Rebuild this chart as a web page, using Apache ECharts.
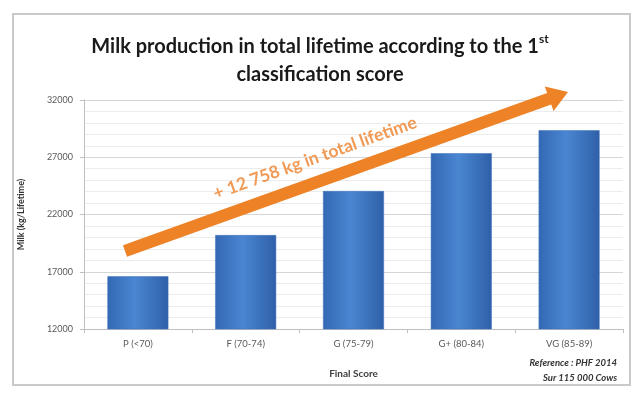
<!DOCTYPE html>
<html>
<head>
<meta charset="utf-8">
<script src="https://cdn.jsdelivr.net/npm/echarts@6/dist/echarts.min.js"></script>
<style>
html,body{margin:0;padding:0;background:#fff;}
#chart{width:640px;height:393px;}
</style>
</head>
<body>
<div id="chart"></div>
<script>
var categories = ['P (<70)', 'F (70-74)', 'G (75-79)', 'G+ (80-84)', 'VG (85-89)'];
var milkLifetime = [16600, 20200, 24050, 27350, 29360];
var yTicks = [12000, 17000, 22000, 27000, 32000];
var titleLine1 = 'Milk production in total lifetime according to the 1';
var titleSup = 'st';
var titleLine2 = 'classification score';
var arrowLabel = '+ 12 758 kg in total lifetime';
var noteLines = ['Reference : PHF 2014', 'Sur 115 000 Cows'];

var FONT = 'Lato, "Open Sans", sans-serif';
var chart = echarts.init(document.getElementById('chart'), null, {renderer: 'canvas'});

// arrow geometry (annotation)
var T = [125, 251], P = [568, 92];
var dx = P[0] - T[0], dy = P[1] - T[1], L = Math.sqrt(dx * dx + dy * dy);
var u = [dx / L, dy / L], n = [-u[1], u[0]];
var hl = 20, sw = 6, hw = 13;
var B = [P[0] - hl * u[0], P[1] - hl * u[1]];
function pt(o, v, k) { return [o[0] + v[0] * k, o[1] + v[1] * k]; }
var arrowPts = [pt(T, n, -sw), pt(B, n, -sw), pt(B, n, -hw), P, pt(B, n, hw), pt(B, n, sw), pt(T, n, sw)];
var angle = Math.atan2(-dy, dx);

chart.setOption({
  backgroundColor: '#ffffff',
  animation: false,
  title: {
    text: '{t|' + titleLine1 + '}{s|' + titleSup + '}\n{t|' + titleLine2 + '}',
    left: 'center',
    top: 28,
    textStyle: {
      rich: {
        t: {fontFamily: FONT, fontWeight: 'bold', fontSize: 20, color: '#1a1a1a', lineHeight: 28},
        s: {fontFamily: FONT, fontWeight: 'bold', fontSize: 12, color: '#1a1a1a', verticalAlign: 'top', lineHeight: 28, padding: [0, 0, 8, 0]}
      }
    }
  },
  grid: {left: 84, right: 17, top: 100, bottom: 64, containLabel: false},
  xAxis: {
    type: 'category',
    data: categories,
    name: 'Final Score',
    nameLocation: 'middle',
    nameGap: 40,
    nameTextStyle: {fontFamily: FONT, fontWeight: 'bold', fontSize: 10, color: '#404040'},
    axisLine: {lineStyle: {color: '#bfbfbf', width: 1}},
    axisTick: {show: true, length: 4, lineStyle: {color: '#bfbfbf'}},
    axisLabel: {fontFamily: FONT, fontSize: 9.5, color: '#595959', margin: 10}
  },
  yAxis: {
    type: 'value',
    min: yTicks[0],
    max: yTicks[yTicks.length - 1],
    interval: yTicks[1] - yTicks[0],
    name: 'Milk (kg/Lifetime)',
    nameLocation: 'middle',
    nameGap: 58,
    nameTextStyle: {fontFamily: FONT, fontWeight: 'bold', fontSize: 9, color: '#333'},
    axisLine: {show: true, lineStyle: {color: '#bfbfbf', width: 1}},
    axisTick: {show: true, length: 4, lineStyle: {color: '#bfbfbf'}},
    axisLabel: {fontFamily: FONT, fontSize: 9, color: '#595959', margin: 11, formatter: function (v) { return String(v); }},
    splitLine: {show: true, lineStyle: {color: '#d6d6d6', width: 1}},
    minorTick: {show: false, splitNumber: 5},
    minorSplitLine: {show: true, lineStyle: {color: '#ececec', width: 1}}
  },
  series: [{
    type: 'bar',
    data: milkLifetime,
    barWidth: '56.5%',
    itemStyle: {
      color: new echarts.graphic.LinearGradient(0, 0, 1, 0, [
        {offset: 0, color: '#3468b4'},
        {offset: 0.45, color: '#4a86d2'},
        {offset: 1, color: '#2f60a8'}
      ]),
      borderColor: '#3a6fb8',
      borderWidth: 0.5
    }
  }],
  graphic: [
    {type: 'rect', shape: {x: 13, y: 14, width: 617, height: 371}, style: {fill: 'none', stroke: '#c9c9c9', lineWidth: 2}, silent: true},
    {type: 'polygon', shape: {points: arrowPts}, style: {fill: '#ee8226'}, z: 10},
    {type: 'text', x: 315, y: 158, rotation: angle, z: 11,
      style: {text: arrowLabel, fill: '#f09a55', font: 'bold 17.5px ' + FONT, textAlign: 'center', textVerticalAlign: 'middle'}},
    {type: 'text', x: 617, y: 363, z: 11,
      style: {text: noteLines[0], fill: '#333', font: 'italic bold 9.5px ' + FONT, textAlign: 'right', textVerticalAlign: 'middle'}},
    {type: 'text', x: 617, y: 378, z: 11,
      style: {text: noteLines[1], fill: '#333', font: 'italic bold 9.5px ' + FONT, textAlign: 'right', textVerticalAlign: 'middle'}}
  ]
});
</script>
</body>
</html>
